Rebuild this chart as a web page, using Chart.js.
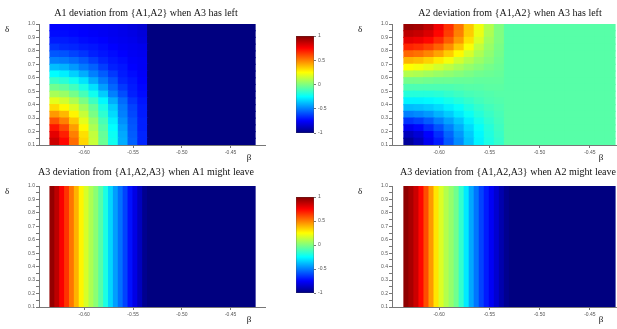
<!DOCTYPE html>
<html lang="en">
<head>
<meta charset="UTF-8">
<title>Deviation maps</title>
<style>
    html, body { margin: 0; padding: 0; background: #fff; }
    #page { position: relative; width: 617px; height: 329px; overflow: hidden; }
    canvas { position: absolute; }
</style>
<script src="https://cdn.jsdelivr.net/npm/chart.js"></script>
</head>
<body>
<div id="page">
    <canvas id="p1" width="292" height="165" style="left:0px;top:0px"></canvas>
    <canvas id="p2" width="317" height="165" style="left:300px;top:0px"></canvas>
    <canvas id="p3" width="292" height="164" style="left:0px;top:165px"></canvas>
    <canvas id="p4" width="317" height="164" style="left:300px;top:165px"></canvas>
    <canvas id="cb1" width="50" height="110" style="left:290px;top:30px"></canvas>
    <canvas id="cb2" width="50" height="110" style="left:290px;top:191px"></canvas>
</div>
<script>
// cell centres (beta) for the two 2-D maps, 0.01 wide
const betaCols = [-0.63, -0.62, -0.61, -0.60, -0.59, -0.58, -0.57, -0.56, -0.55, -0.54,
    -0.53, -0.52, -0.51, -0.50, -0.49, -0.48, -0.47, -0.46, -0.45, -0.44, -0.43];
// cell centres (delta), 0.05 tall
const deltaRows = [0.125, 0.175, 0.225, 0.275, 0.325, 0.375, 0.425, 0.475, 0.525,
    0.575, 0.625, 0.675, 0.725, 0.775, 0.825, 0.875, 0.925, 0.975];

// A1 deviation from {A1,A2} when A3 has left (rows bottom -> top)
const a1Dev = [
    [0.85, 0.74, 0.54, 0.33, 0.14, -0.04, -0.22, -0.41, -0.56, -0.68, -1, -1, -1, -1, -1, -1, -1, -1, -1, -1, -1],
    [0.80, 0.69, 0.50, 0.31, 0.13, -0.05, -0.23, -0.42, -0.57, -0.68, -1, -1, -1, -1, -1, -1, -1, -1, -1, -1, -1],
    [0.71, 0.61, 0.44, 0.26, 0.09, -0.08, -0.25, -0.44, -0.58, -0.69, -1, -1, -1, -1, -1, -1, -1, -1, -1, -1, -1],
    [0.59, 0.50, 0.36, 0.20, 0.05, -0.11, -0.28, -0.47, -0.59, -0.69, -1, -1, -1, -1, -1, -1, -1, -1, -1, -1, -1],
    [0.45, 0.39, 0.27, 0.14, -0.01, -0.16, -0.32, -0.50, -0.61, -0.70, -1, -1, -1, -1, -1, -1, -1, -1, -1, -1, -1],
    [0.32, 0.26, 0.18, 0.07, -0.05, -0.20, -0.35, -0.51, -0.62, -0.70, -1, -1, -1, -1, -1, -1, -1, -1, -1, -1, -1],
    [0.20, 0.16, 0.09, -0.01, -0.13, -0.26, -0.41, -0.54, -0.65, -0.71, -1, -1, -1, -1, -1, -1, -1, -1, -1, -1, -1],
    [0.08, 0.05, -0.02, -0.11, -0.22, -0.35, -0.50, -0.60, -0.69, -0.73, -1, -1, -1, -1, -1, -1, -1, -1, -1, -1, -1],
    [-0.03, -0.06, -0.12, -0.20, -0.31, -0.44, -0.55, -0.64, -0.70, -0.74, -1, -1, -1, -1, -1, -1, -1, -1, -1, -1, -1],
    [-0.14, -0.17, -0.22, -0.30, -0.41, -0.51, -0.59, -0.68, -0.71, -0.75, -1, -1, -1, -1, -1, -1, -1, -1, -1, -1, -1],
    [-0.25, -0.28, -0.34, -0.41, -0.50, -0.57, -0.64, -0.70, -0.73, -0.76, -1, -1, -1, -1, -1, -1, -1, -1, -1, -1, -1],
    [-0.38, -0.40, -0.45, -0.51, -0.56, -0.63, -0.69, -0.71, -0.75, -0.77, -1, -1, -1, -1, -1, -1, -1, -1, -1, -1, -1],
    [-0.50, -0.51, -0.54, -0.58, -0.63, -0.68, -0.71, -0.73, -0.76, -0.77, -1, -1, -1, -1, -1, -1, -1, -1, -1, -1, -1],
    [-0.58, -0.59, -0.62, -0.65, -0.69, -0.71, -0.73, -0.75, -0.77, -0.78, -1, -1, -1, -1, -1, -1, -1, -1, -1, -1, -1],
    [-0.65, -0.67, -0.68, -0.70, -0.71, -0.73, -0.75, -0.77, -0.78, -0.79, -1, -1, -1, -1, -1, -1, -1, -1, -1, -1, -1],
    [-0.70, -0.70, -0.71, -0.73, -0.74, -0.75, -0.77, -0.78, -0.79, -0.81, -1, -1, -1, -1, -1, -1, -1, -1, -1, -1, -1],
    [-0.73, -0.73, -0.74, -0.75, -0.76, -0.77, -0.78, -0.79, -0.80, -0.82, -1, -1, -1, -1, -1, -1, -1, -1, -1, -1, -1],
    [-0.75, -0.75, -0.76, -0.77, -0.78, -0.78, -0.79, -0.80, -0.82, -0.84, -1, -1, -1, -1, -1, -1, -1, -1, -1, -1, -1]
];

// A2 deviation from {A1,A2} when A3 has left (rows bottom -> top)
const a2Dev = [
    [-0.95, -0.88, -0.78, -0.70, -0.58, -0.48, -0.37, -0.27, -0.20, -0.15, -0.08, -0.08, -0.08, -0.08, -0.08, -0.08, -0.08, -0.08, -0.08, -0.08, -0.08],
    [-0.88, -0.83, -0.75, -0.66, -0.55, -0.45, -0.35, -0.26, -0.19, -0.14, -0.08, -0.08, -0.08, -0.08, -0.08, -0.08, -0.08, -0.08, -0.08, -0.08, -0.08],
    [-0.78, -0.74, -0.67, -0.59, -0.50, -0.41, -0.32, -0.24, -0.18, -0.13, -0.08, -0.08, -0.08, -0.08, -0.08, -0.08, -0.08, -0.08, -0.08, -0.08, -0.08],
    [-0.65, -0.62, -0.57, -0.50, -0.43, -0.36, -0.28, -0.21, -0.16, -0.12, -0.08, -0.08, -0.08, -0.08, -0.08, -0.08, -0.08, -0.08, -0.08, -0.08, -0.08],
    [-0.50, -0.48, -0.45, -0.40, -0.35, -0.29, -0.23, -0.18, -0.14, -0.11, -0.08, -0.08, -0.08, -0.08, -0.08, -0.08, -0.08, -0.08, -0.08, -0.08, -0.08],
    [-0.38, -0.37, -0.35, -0.32, -0.28, -0.24, -0.19, -0.15, -0.12, -0.10, -0.08, -0.08, -0.08, -0.08, -0.08, -0.08, -0.08, -0.08, -0.08, -0.08, -0.08],
    [-0.27, -0.27, -0.26, -0.24, -0.21, -0.18, -0.15, -0.12, -0.10, -0.09, -0.08, -0.08, -0.08, -0.08, -0.08, -0.08, -0.08, -0.08, -0.08, -0.08, -0.08],
    [-0.18, -0.18, -0.18, -0.17, -0.15, -0.13, -0.11, -0.10, -0.09, -0.08, -0.08, -0.08, -0.08, -0.08, -0.08, -0.08, -0.08, -0.08, -0.08, -0.08, -0.08],
    [-0.10, -0.10, -0.10, -0.10, -0.10, -0.09, -0.08, -0.08, -0.07, -0.07, -0.08, -0.08, -0.08, -0.08, -0.08, -0.08, -0.08, -0.08, -0.08, -0.08, -0.08],
    [-0.02, -0.02, -0.03, -0.04, -0.04, -0.05, -0.05, -0.06, -0.06, -0.06, -0.08, -0.08, -0.08, -0.08, -0.08, -0.08, -0.08, -0.08, -0.08, -0.08, -0.08],
    [0.10, 0.09, 0.07, 0.05, 0.03, 0.01, -0.01, -0.03, -0.04, -0.05, -0.08, -0.08, -0.08, -0.08, -0.08, -0.08, -0.08, -0.08, -0.08, -0.08, -0.08],
    [0.25, 0.23, 0.20, 0.16, 0.12, 0.08, 0.04, 0.01, -0.02, -0.04, -0.08, -0.08, -0.08, -0.08, -0.08, -0.08, -0.08, -0.08, -0.08, -0.08, -0.08],
    [0.40, 0.38, 0.34, 0.29, 0.23, 0.16, 0.10, 0.05, 0.01, -0.03, -0.08, -0.08, -0.08, -0.08, -0.08, -0.08, -0.08, -0.08, -0.08, -0.08, -0.08],
    [0.55, 0.53, 0.49, 0.43, 0.35, 0.26, 0.17, 0.09, 0.03, -0.02, -0.08, -0.08, -0.08, -0.08, -0.08, -0.08, -0.08, -0.08, -0.08, -0.08, -0.08],
    [0.68, 0.66, 0.62, 0.56, 0.47, 0.36, 0.24, 0.13, 0.05, -0.01, -0.08, -0.08, -0.08, -0.08, -0.08, -0.08, -0.08, -0.08, -0.08, -0.08, -0.08],
    [0.80, 0.78, 0.74, 0.67, 0.57, 0.45, 0.31, 0.18, 0.07, 0.00, -0.08, -0.08, -0.08, -0.08, -0.08, -0.08, -0.08, -0.08, -0.08, -0.08, -0.08],
    [0.88, 0.86, 0.82, 0.74, 0.63, 0.50, 0.35, 0.21, 0.09, 0.00, -0.08, -0.08, -0.08, -0.08, -0.08, -0.08, -0.08, -0.08, -0.08, -0.08, -0.08],
    [0.95, 0.93, 0.88, 0.78, 0.66, 0.52, 0.36, 0.22, 0.10, 0.00, -0.08, -0.08, -0.08, -0.08, -0.08, -0.08, -0.08, -0.08, -0.08, -0.08, -0.08]
];

// the A3 maps only change along beta: 0.005 wide columns spanning the whole delta range
const betaFine = [-0.6325, -0.6275, -0.6225, -0.6175, -0.6125, -0.6075, -0.6025, -0.5975,
    -0.5925, -0.5875, -0.5825, -0.5775, -0.5725, -0.5675, -0.5625, -0.5575, -0.5525, -0.5475,
    -0.5425, -0.5375, -0.5325, -0.5275, -0.5225, -0.5175, -0.5125, -0.5075, -0.5025, -0.4975,
    -0.4925, -0.4875, -0.4825, -0.4775, -0.4725, -0.4675, -0.4625, -0.4575, -0.4525, -0.4475,
    -0.4425, -0.4375, -0.4325, -0.4275];
const a3DevA1 = [0.96, 0.88, 0.76, 0.65, 0.52, 0.40, 0.27, 0.17, 0.09, 0.02, -0.08, -0.20,
    -0.33, -0.44, -0.53, -0.62, -0.72, -0.80, -0.88, -0.97, -1, -1, -1, -1, -1, -1, -1, -1,
    -1, -1, -1, -1, -1, -1, -1, -1, -1, -1, -1, -1, -1, -1];
const a3DevA2 = [0.97, 0.92, 0.85, 0.74, 0.60, 0.45, 0.30, 0.18, 0.10, 0.04, -0.03, -0.15,
    -0.29, -0.42, -0.52, -0.62, -0.70, -0.77, -0.84, -0.91, -0.97, -1, -1, -1, -1, -1, -1, -1,
    -1, -1, -1, -1, -1, -1, -1, -1, -1, -1, -1, -1, -1, -1];

const deltaRange = [0.1, 1.0];
const betaRangeLeft = [-0.6463, -0.4148];
const betaRangeRight = [-0.6469, -0.4230];
const betaTicks = [-0.60, -0.55, -0.50, -0.45];
const colorTicks = [-1, -0.5, 0, 0.5, 1];
const titles = [
    'A1 deviation from {A1,A2} when A3 has left',
    'A2 deviation from {A1,A2} when A3 has left',
    'A3 deviation from {A1,A2,A3} when A1 might leave',
    'A3 deviation from {A1,A2,A3} when A2 might leave'
];

// jet colour map, value in [-1, 1]
function jet(v) {
    const t = (v + 1) / 2;
    const c = x => Math.round(255 * Math.max(0, Math.min(1, x)));
    const r = c(1.5 - Math.abs(4 * t - 3));
    const g = c(1.5 - Math.abs(4 * t - 2));
    const b = c(1.5 - Math.abs(4 * t - 1));
    return `rgb(${r},${g},${b})`;
}

const tickFont = { family: 'Liberation Sans', size: 5 };

// title and the two axis symbols
const panelText = {
    id: 'panelText',
    afterDraw(chart, args, opts) {
        const ctx = chart.ctx;
        const a = chart.chartArea;
        ctx.save();
        ctx.fillStyle = '#111';
        ctx.textAlign = 'center';
        ctx.textBaseline = 'middle';
        ctx.font = '10px "Liberation Serif"';
        ctx.fillText(opts.title, opts.x, opts.y);
        ctx.font = '9px "Liberation Serif"';
        ctx.fillText('δ', a.left - 32, a.top + 6);
        ctx.fillText('β', a.right - 16, a.bottom + 13);
        ctx.restore();
    }
};

function gridSets(vals) {
    const half = (deltaRows[1] - deltaRows[0]) / 2;
    return deltaRows.map((d, r) => ({
        data: betaCols.map(b => ({ x: b, y: [d - half, d + half] })),
        backgroundColor: vals[r].map(jet)
    }));
}

function stripSets(vals) {
    return [{
        data: betaFine.map(b => ({ x: b, y: deltaRange })),
        backgroundColor: vals.map(jet)
    }];
}

function heatPanel(id, datasets, xRange, yW, xH, pad, title, tx, ty) {
    return new Chart(document.getElementById(id), {
        type: 'bar',
        data: { datasets: datasets },
        plugins: [panelText],
        options: {
            responsive: false,
            animation: false,
            devicePixelRatio: 1,
            events: [],
            layout: { padding: pad },
            datasets: {
                bar: { grouped: false, borderWidth: 0, inflateAmount: 0.6, barPercentage: 1, categoryPercentage: 1 }
            },
            plugins: {
                legend: { display: false },
                tooltip: { enabled: false },
                panelText: { title: title, x: tx, y: ty }
            },
            scales: {
                x: {
                    type: 'linear', min: xRange[0], max: xRange[1], offset: false,
                    afterBuildTicks: s => { s.ticks = betaTicks.map(v => ({ value: v })); },
                    afterFit: s => { s.height = xH; },
                    ticks: { font: tickFont, color: '#555', padding: 2, maxRotation: 0, callback: v => v.toFixed(2) },
                    grid: { drawOnChartArea: false, tickLength: 3, color: '#777', offset: false },
                    border: { color: '#777' }
                },
                y: {
                    type: 'linear', min: deltaRange[0], max: deltaRange[1],
                    afterFit: s => { s.width = yW; },
                    ticks: {
                        stepSize: 0.05, autoSkip: false, font: tickFont, color: '#555', padding: 1,
                        callback: v => {
                            const r = Math.round(v * 100);
                            return r % 10 === 0 ? (r / 100).toFixed(1) : '';
                        }
                    },
                    grid: { drawOnChartArea: false, tickLength: 3, color: '#777' },
                    border: { color: '#777' }
                }
            }
        }
    });
}

function jetGradient(chart) {
    const y = chart.scales.y;
    if (!y) return '#888';
    const top = y.getPixelForValue(1), bottom = y.getPixelForValue(-1);
    if (!Number.isFinite(top) || !Number.isFinite(bottom) || top === bottom) return '#888';
    const g = chart.ctx.createLinearGradient(0, bottom, 0, top);
    [0, 0.125, 0.375, 0.625, 0.875, 1].forEach(t => g.addColorStop(t, jet(t * 2 - 1)));
    return g;
}

function colorBar(id, padBottom) {
    return new Chart(document.getElementById(id), {
        type: 'bar',
        data: {
            labels: [''],
            datasets: [{
                data: [[colorTicks[0], colorTicks[colorTicks.length - 1]]],
                backgroundColor: ctx => jetGradient(ctx.chart),
                borderColor: '#444',
                borderWidth: 0.6,
                borderSkipped: false,
                barPercentage: 1,
                categoryPercentage: 1
            }]
        },
        options: {
            responsive: false,
            animation: false,
            devicePixelRatio: 1,
            events: [],
            layout: { padding: { left: 6, top: 6, bottom: padBottom } },
            plugins: { legend: { display: false }, tooltip: { enabled: false } },
            scales: {
                x: { display: false },
                y: {
                    position: 'right', min: -1, max: 1,
                    afterBuildTicks: s => { s.ticks = colorTicks.map(v => ({ value: v })); },
                    afterFit: s => { s.width = 26; },
                    ticks: { font: tickFont, color: '#555', padding: 2, callback: v => String(v) },
                    grid: { drawOnChartArea: false, tickLength: 2, color: '#777' },
                    border: { display: false }
                }
            }
        }
    });
}

heatPanel('p1', gridSets(a1Dev), betaRangeLeft, 39, 20, { top: 24, right: 27 }, titles[0], 146, 13);
heatPanel('p2', gridSets(a2Dev), betaRangeRight, 92, 20, { top: 24, right: 0 }, titles[1], 210, 13);
heatPanel('p3', stripSets(a3DevA1), betaRangeLeft, 39, 22, { top: 21, right: 27 }, titles[2], 146, 7);
heatPanel('p4', stripSets(a3DevA2), betaRangeRight, 92, 22, { top: 21, right: 0 }, titles[3], 208, 7);
colorBar('cb1', 7);
colorBar('cb2', 8);
</script>
</body>
</html>
